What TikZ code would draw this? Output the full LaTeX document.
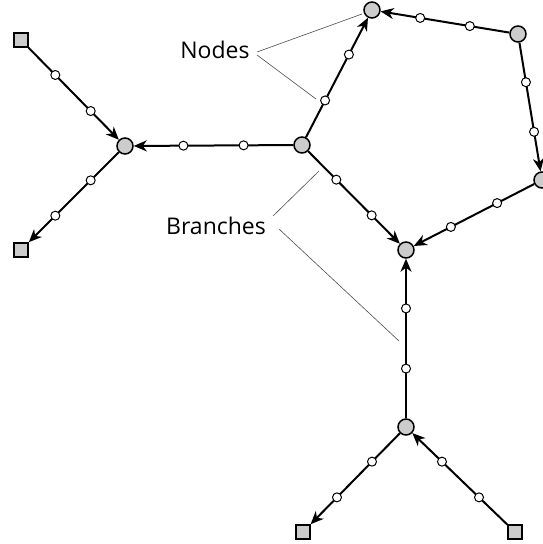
\documentclass[tikz,border=0pt]{standalone}
\usepackage{fontspec}
\setmainfont{Open Sans}
\usetikzlibrary{arrows.meta,calc}

\begin{document}
\begin{tikzpicture}[x=1pt,y=-1pt,
    hub/.style={circle,draw=black,fill=gray!40,line width=1.5pt,minimum size=16pt,inner sep=0pt},
    term/.style={rectangle,draw=black,fill=gray!40,line width=1.5pt,minimum size=14pt,inner sep=0pt},
    junc/.style={circle,draw=black,fill=white,line width=1pt,minimum size=9pt,inner sep=0pt},
    branch/.style={draw=black,line width=2pt,-{Stealth[length=13pt,width=11pt,inset=4pt]}},
    leader/.style={draw=black!70,line width=0.6pt}]
    \useasboundingbox (0,0) rectangle (542,544);

    \node[hub] (a) at (125,146) {};
    \node[hub] (b) at (302,145) {};
    \node[hub] (c) at (372,10) {};
    \node[hub] (d) at (518,34) {};
    \node[hub] (e) at (542,180) {};
    \node[hub] (f) at (406,250) {};
    \node[hub] (g) at (406,427) {};

    \node[term] (t1) at (21,40) {};
    \node[term] (t2) at (21,250) {};
    \node[term] (t3) at (303,532) {};
    \node[term] (t4) at (515,532) {};

    \foreach \u/\v/\n in {t1/a/1, b/a/2, a/t2/3, b/c/4, d/c/5, d/e/6, e/f/7, b/f/8, g/f/9, g/t3/10, t4/g/11} {
        \draw[branch] (\u) -- (\v);
        \node[junc] (j\n a) at ($(\u)!0.33!(\v)$) {};
        \node[junc] (j\n b) at ($(\u)!0.67!(\v)$) {};
    }

    \node[font=\fontsize{23}{27}\selectfont] (nodes) at (215,50) {Nodes};
    \node[font=\fontsize{23}{27}\selectfont] (branches) at (216,226) {Branches};

    \coordinate (n1) at (362,14);
    \coordinate (n2) at (316,99);
    \coordinate (b1) at (319,171);
    \coordinate (b2) at (399,341);
    \draw[leader] (257,52) -- (n1);
    \draw[leader] (257,55) -- (n2);
    \draw[leader] (273,216) -- (b1);
    \draw[leader] (279,229) -- (b2);
\end{tikzpicture}
\end{document}
